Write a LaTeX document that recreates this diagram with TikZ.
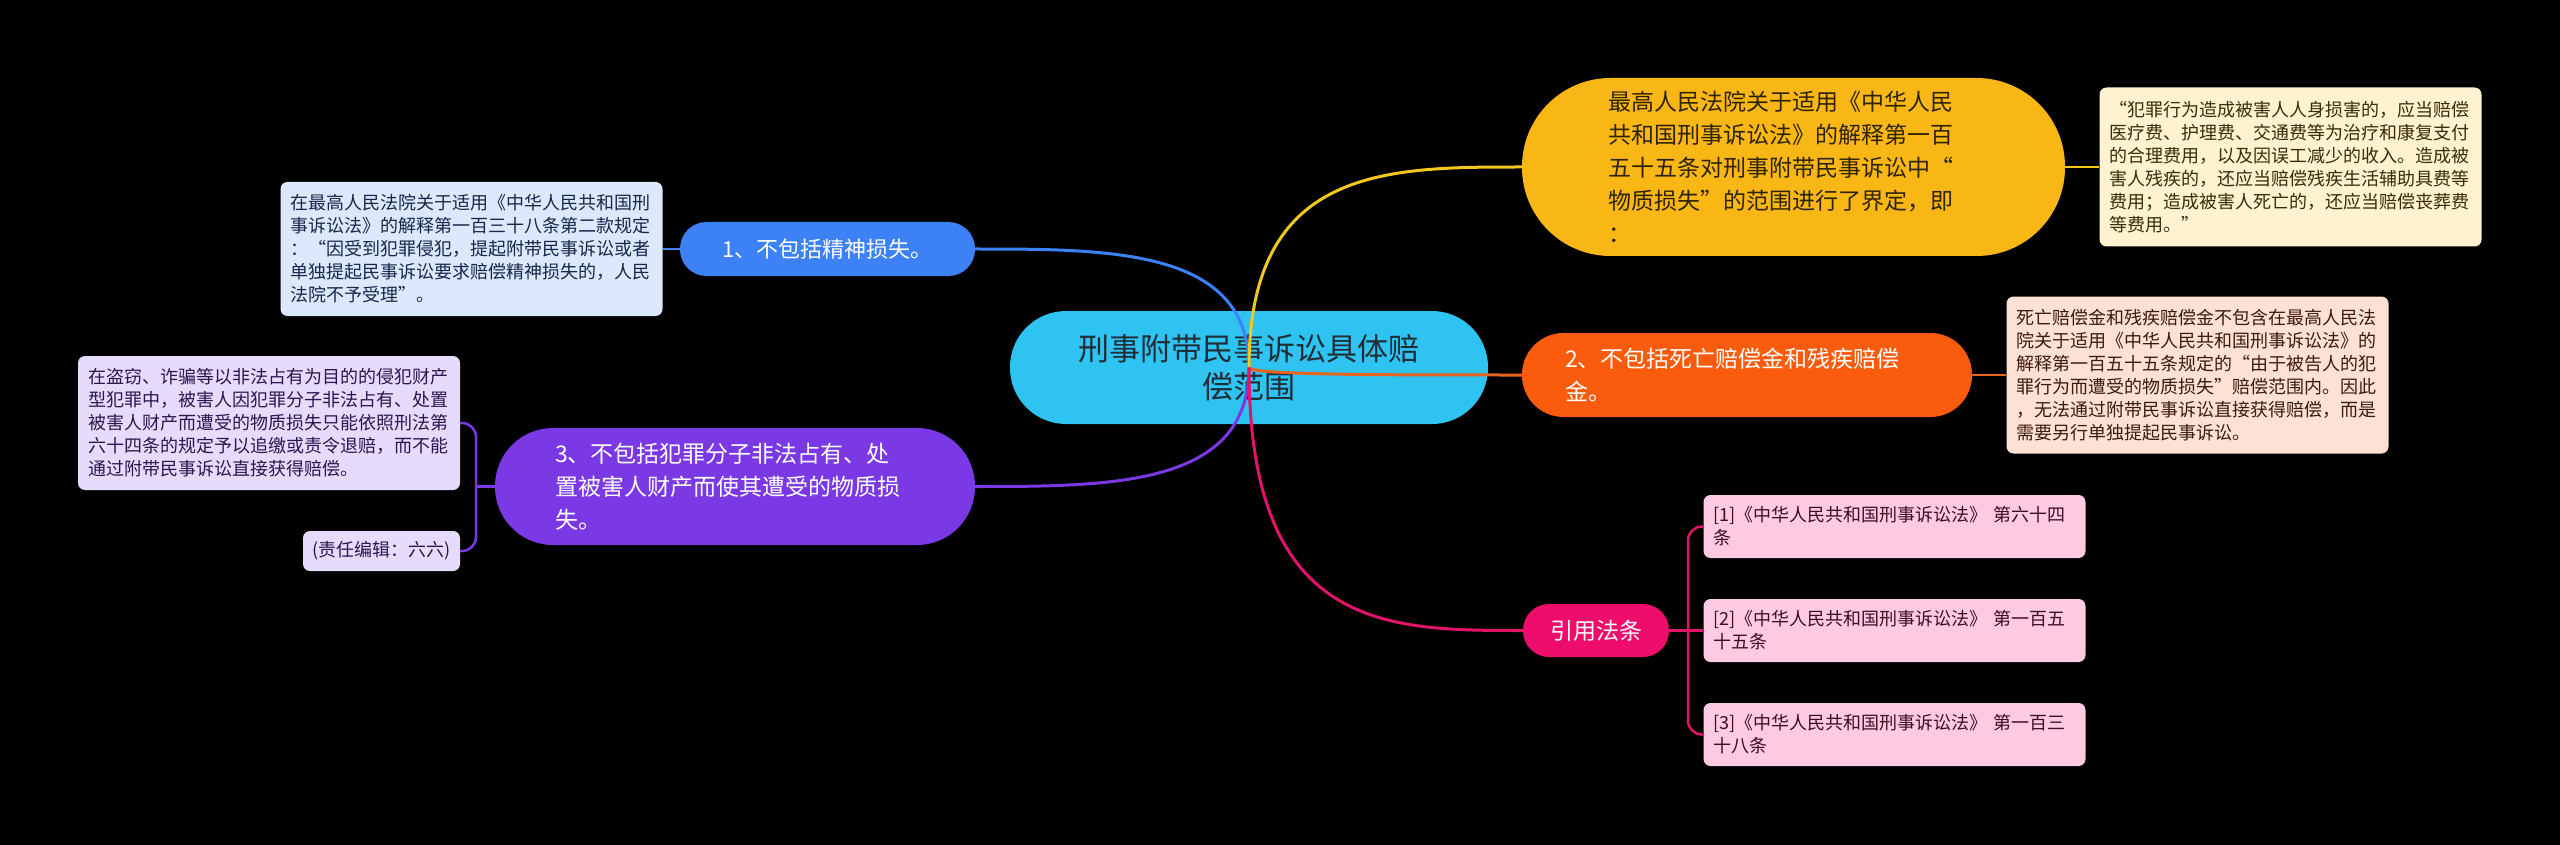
\documentclass[tikz,border=0pt]{standalone}
\usepackage{fontspec}
\setmainfont{Noto Sans CJK SC}
\usetikzlibrary{calc}
\definecolor{cbg}{HTML}{2FC3F2}
\definecolor{ctext}{HTML}{1E2D36}
\definecolor{cblue}{HTML}{3C82F6}
\definecolor{cbluenote}{HTML}{DCE8FC}
\definecolor{cbluetext}{HTML}{18264A}
\definecolor{cpurple}{HTML}{7B39E6}
\definecolor{cpurplenote}{HTML}{E7DBFC}
\definecolor{cpurpletext}{HTML}{2B1650}
\definecolor{cyellow}{HTML}{F9B715}
\definecolor{cyellowline}{HTML}{F2C81C}
\definecolor{cyellowtext}{HTML}{2E2300}
\definecolor{cyellownote}{HTML}{FEF2D0}
\definecolor{cyellownotetext}{HTML}{3A2C08}
\definecolor{corange}{HTML}{FA5B0C}
\definecolor{corangeline}{HTML}{E8641E}
\definecolor{corangenote}{HTML}{FDE1D5}
\definecolor{corangetext}{HTML}{3C1A0C}
\definecolor{cpink}{HTML}{EF0D6B}
\definecolor{cpinkline}{HTML}{E0156A}
\definecolor{cpinknote}{HTML}{FDCAE2}
\definecolor{cpinktext}{HTML}{3D0C24}
\tikzset{
  topicbox/.style={inner sep=0pt, align=left, font=\fontsize{23}{33}\selectfont},
  notebox/.style={rounded corners=7pt, inner xsep=10pt, inner ysep=0pt,
    text width=362pt, minimum width=382pt, align=left,
    font=\fontsize{18}{23}\selectfont},
  mainline/.style={line width=3pt},
  subline/.style={line width=2.5pt},
}
\begin{document}
\begin{tikzpicture}[x=1pt,y=-1pt]
\fill[black] (0,0) rectangle (2560,845);
\useasboundingbox (0,0) rectangle (2560,845);

% central
\node[fill=cbg, text=ctext, rounded corners=56pt, minimum width=478pt, minimum height=113pt,
  align=center, font=\fontsize{31}{38}\selectfont] (ctr) at (1249,367.5)
  {刑事附带民事诉讼具体赔\\偿范围};

% branch 1
\node[fill=cblue, text=white, rounded corners=26.5pt, minimum width=295pt, minimum height=54pt,
  inner sep=0pt, font=\fontsize{22}{30}\selectfont] (n1) at (827.5,249) {1、不包括精神损失。};
\node[notebox, fill=cbluenote, text=cbluetext, minimum height=134pt] (bn) at (471.5,249)
  {在最高人民法院关于适用《中华人民共和国刑\\事诉讼法》的解释第一百三十八条第二款规定\\：“因受到犯罪侵犯，提起附带民事诉讼或者\\单独提起民事诉讼要求赔偿精神损失的，人民\\法院不予受理”。};

% branch 3
\node[topicbox, fill=cpurple, text=white, rounded corners=58pt, minimum width=480pt,
  minimum height=117pt, text width=360pt] (n3) at (735,486.5)
  {3、不包括犯罪分子非法占有、处\\置被害人财产而使其遭受的物质损\\失。};
\node[notebox, fill=cpurplenote, text=cpurpletext, minimum height=134pt] (pn1) at (269,423)
  {在盗窃、诈骗等以非法占有为目的的侵犯财产\\型犯罪中，被害人因犯罪分子非法占有、处置\\被害人财产而遭受的物质损失只能依照刑法第\\六十四条的规定予以追缴或责令退赔，而不能\\通过附带民事诉讼直接获得赔偿。};
\node[rounded corners=7pt, fill=cpurplenote, text=cpurpletext, minimum width=157pt,
  minimum height=40pt, inner sep=0pt, font=\fontsize{18}{23}\selectfont] (pn2) at (381.5,551)
  {(责任编辑：六六)};

% yellow branch
\node[topicbox, fill=cyellow, text=cyellowtext, rounded corners=88.5pt, minimum width=543pt,
  minimum height=178pt, text width=371pt] (ny) at (1793.5,167)
  {最高人民法院关于适用《中华人民\\共和国刑事诉讼法》的解释第一百\\五十五条对刑事附带民事诉讼中“\\物质损失”的范围进行了界定，即\\：};
\node[notebox, fill=cyellownote, text=cyellownotetext, minimum height=159pt] (yn) at (2290.5,167)
  {“犯罪行为造成被害人人身损害的，应当赔偿\\医疗费、护理费、交通费等为治疗和康复支付\\的合理费用，以及因误工减少的收入。造成被\\害人残疾的，还应当赔偿残疾生活辅助具费等\\费用；造成被害人死亡的，还应当赔偿丧葬费\\等费用。”};

% orange branch
\node[topicbox, fill=corange, text=white, rounded corners=41.5pt, minimum width=450pt,
  minimum height=84pt, text width=364pt] (no) at (1747,375)
  {2、不包括死亡赔偿金和残疾赔偿\\金。};
\node[notebox, fill=corangenote, text=corangetext, minimum height=157pt] (on) at (2197.5,375)
  {死亡赔偿金和残疾赔偿金不包含在最高人民法\\院关于适用《中华人民共和国刑事诉讼法》的\\解释第一百五十五条规定的“由于被告人的犯\\罪行为而遭受的物质损失”赔偿范围内。因此\\，无法通过附带民事诉讼直接获得赔偿，而是\\需要另行单独提起民事诉讼。};

% pink branch
\node[fill=cpink, text=white, rounded corners=26pt, minimum width=146pt, minimum height=53pt,
  inner sep=0pt, font=\fontsize{23}{30}\selectfont] (np) at (1596,630.5) {引用法条};
\node[notebox, fill=cpinknote, text=cpinktext, minimum height=63pt] (k1) at (1894.5,526.5)
  {[1]《中华人民共和国刑事诉讼法》 第六十四\\条};
\node[notebox, fill=cpinknote, text=cpinktext, minimum height=63pt] (k2) at (1894.5,630.5)
  {[2]《中华人民共和国刑事诉讼法》 第一百五\\十五条};
\node[notebox, fill=cpinknote, text=cpinktext, minimum height=63pt] (k3) at (1894.5,734.5)
  {[3]《中华人民共和国刑事诉讼法》 第一百三\\十八条};

% connectors: main branches
\draw[mainline, cblue] (ctr.center) .. controls (ctr.center |- n1.east) and ($(ctr.center |- n1.east)!0.5!(n1.east)$) .. (n1.east);
\draw[mainline, cpurple] (ctr.center) .. controls (ctr.center |- n3.east) and ($(ctr.center |- n3.east)!0.5!(n3.east)$) .. (n3.east);
\draw[mainline, cyellowline] (ctr.center) .. controls (ctr.center |- ny.west) and ($(ctr.center |- ny.west)!0.5!(ny.west)$) .. (ny.west);
\draw[mainline, corangeline] (ctr.center) .. controls (ctr.center |- no.west) and ($(ctr.center |- no.west)!0.5!(no.west)$) .. (no.west);
\draw[mainline, cpinkline] (ctr.center) .. controls (ctr.center |- np.west) and ($(ctr.center |- np.west)!0.5!(np.west)$) .. (np.west);

% connectors: notes
\draw[subline, cblue] (n1.west) -- (bn.east);
\draw[subline, cyellowline] (ny.east) -- (yn.west);
\draw[subline, corangeline] (no.east) -- (on.west);
\coordinate (pj) at (476,486.5);
\draw[subline, cpurple] (n3.west) -- (pj);
\draw[subline, cpurple, rounded corners=14pt] (pn1.east) -| (pj) |- (pn2.east);
\coordinate (kj) at (1688,630.5);
\draw[subline, cpinkline] (np.east) -- (k2.west);
\draw[subline, cpinkline, rounded corners=14pt] (k1.west) -| (kj) |- (k3.west);
\end{tikzpicture}
\end{document}
